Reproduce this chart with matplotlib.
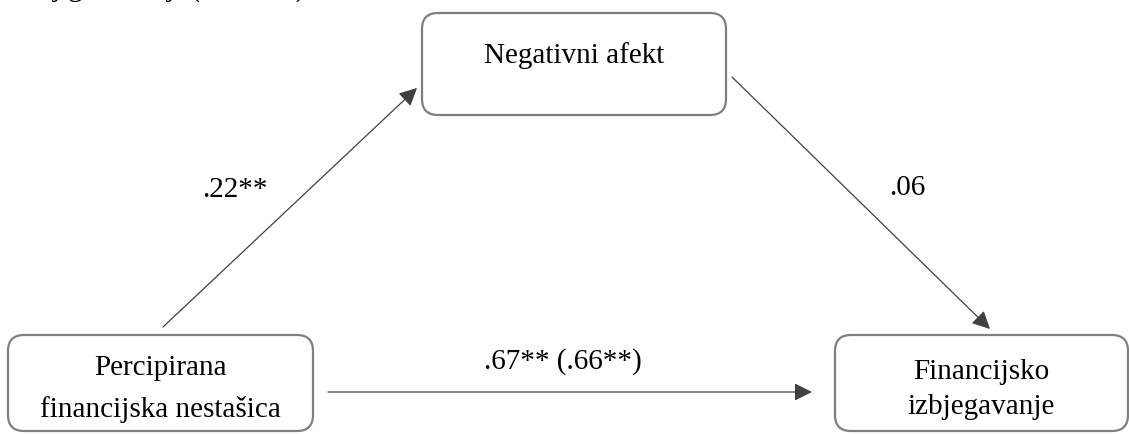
import matplotlib
matplotlib.use("Agg")
import matplotlib.pyplot as plt
from matplotlib.patches import FancyBboxPatch

plt.rcParams['font.family'] = ['Liberation Serif', 'DejaVu Serif']

# --- data ---
node_names = ["Negativni afekt", "Percipirana\nfinancijska nestašica", "Financijsko\nizbjegavanje"]
path_labels = [".22**", ".06", ".67** (.66**)"]
heading = "mlađoj generaciji (N = 250)"

# --- layout (pixel coordinates, y downward) ---
W, H = 1129, 434
fig = plt.figure(figsize=(W / 100, H / 100), dpi=100)
ax = fig.add_axes([0, 0, 1, 1])
ax.set_xlim(0, W)
ax.set_ylim(H, 0)
ax.axis('off')

box_color = "#7f7f7f"
arrow_color = "#404040"
fs = 21

boxes = [  # left, top, right, bottom
    (422, 13, 726, 115),
    (8, 335, 313, 431),
    (835, 335, 1128, 431),
]
text_baselines = [
    [63],
    [375, 417],
    [379, 414],
]
for (l, t, r, b), name, bls in zip(boxes, node_names, text_baselines):
    p = FancyBboxPatch((l, t), r - l, b - t,
                       boxstyle="round,pad=0,rounding_size=16",
                       fc="white", ec=box_color, lw=1.6, clip_on=False)
    ax.add_patch(p)
    cx = (l + r) / 2
    for line, yb in zip(name.split("\n"), bls):
        ax.text(cx, yb, line, ha='center', va='baseline', fontsize=fs, color='black')

arrows = [
    ((163, 327), (417, 88)),
    ((732, 77), (990, 329)),
    ((328, 392), (812, 392)),
]
for (s, e) in arrows:
    ax.annotate("", xy=e, xytext=s,
                arrowprops=dict(arrowstyle="-|>,head_length=0.6,head_width=0.3",
                                mutation_scale=18, color=arrow_color, lw=0.9,
                                shrinkA=0, shrinkB=0))

label_pos = [(235, 197), (907, 195), (563, 369)]
for (x, y), lab in zip(label_pos, path_labels):
    ax.text(x, y, lab, ha='center', va='baseline', fontsize=fs, color='black')

# cropped heading line at the very top
ax.text(-20, -4, heading, ha='left', va='baseline', fontsize=fs, color='black', clip_on=False)

fig.savefig("out.png", dpi=100, facecolor="white")
